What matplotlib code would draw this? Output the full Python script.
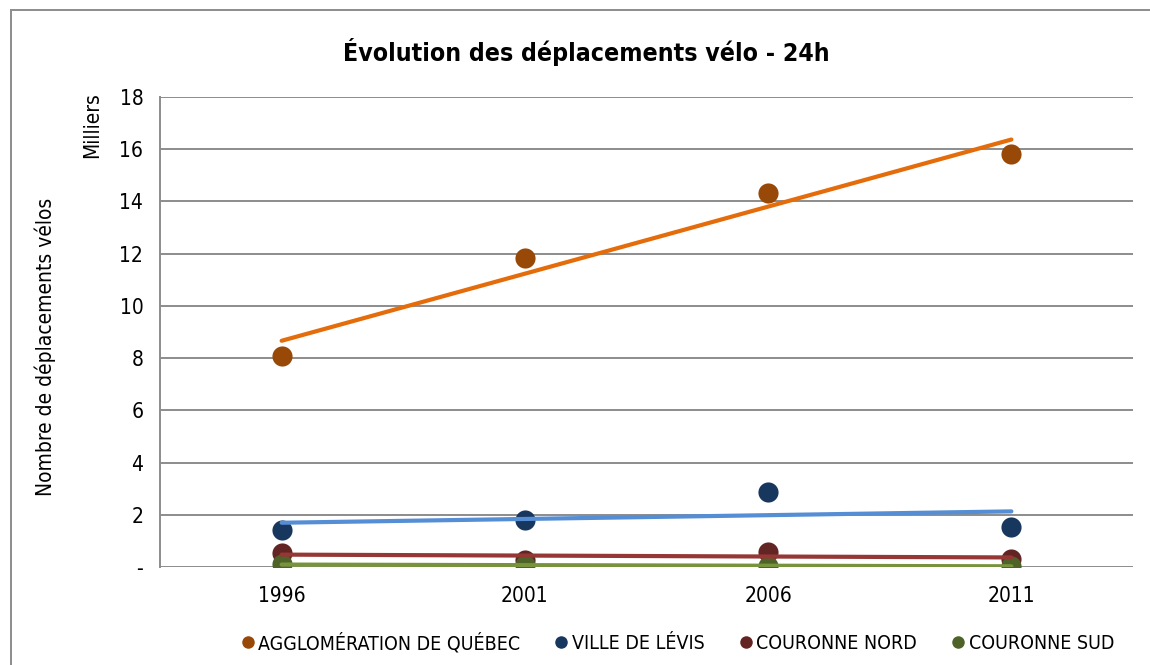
import matplotlib
matplotlib.use("Agg")
import matplotlib.pyplot as plt
import numpy as np
from matplotlib.lines import Line2D
from matplotlib.patches import Rectangle

plt.rcParams["font.family"] = ["DejaVu Sans"]
plt.rcParams["font.stretch"] = "condensed"

years = ["1996", "2001", "2006", "2011"]
series_names = ["AGGLOMÉRATION DE QUÉBEC", "VILLE DE LÉVIS", "COURONNE NORD", "COURONNE SUD"]
agglo = [8.08, 11.85, 14.32, 15.82]
levis = [1.42, 1.80, 2.89, 1.54]
nord = [0.52, 0.28, 0.58, 0.30]
sud = [0.10, 0.06, 0.05, 0.03]
yticks = [0, 2, 4, 6, 8, 10, 12, 14, 16, 18]
yticklabels = ["-", "2", "4", "6", "8", "10", "12", "14", "16", "18"]

marker_colors = ["#984807", "#17375E", "#632523", "#4F6228"]
trend_colors = ["#E46C0A", "#558ED5", "#953735", "#77933C"]

fig = plt.figure(figsize=(11.5, 6.65), dpi=100)
ax = fig.add_axes([160 / 1150, 1 - 567 / 665, (1133 - 160) / 1150, (567 - 97) / 665])

x = np.arange(len(years))
for vals, mc, tc in zip([agglo, levis, nord, sud], marker_colors, trend_colors):
    ax.plot(x, vals, "o", color=mc, markersize=14.5, markeredgewidth=0, zorder=3)
    # linear trendline, as in the source spreadsheet
    k, b = np.polyfit(x, vals, 1)
    ax.plot(x, k * x + b, color=tc, linewidth=3, solid_capstyle="round", zorder=4)

ax.set_xlim(-0.5, 3.5)
ax.set_ylim(0, 18)
ax.set_xticks(x)
ax.set_xticklabels(years, fontsize=15)
ax.set_yticks(yticks)
ax.set_yticklabels(yticklabels, fontsize=15)
ax.tick_params(length=0, pad=12)
ax.tick_params(axis="x", pad=14)
ax.grid(axis="y", color="#8C8C8C", linewidth=1.4)
ax.set_axisbelow(True)
for side in ["top", "right", "bottom"]:
    ax.spines[side].set_visible(False)
ax.spines["left"].set_color("#8C8C8C")
ax.spines["left"].set_linewidth(1.4)

fig.text(586 / 1150, 1 - 52 / 665, "Évolution des déplacements vélo - 24h",
         ha="center", va="center", fontsize=17.8, fontweight="bold")
fig.text(45 / 1150, 1 - 347 / 665, "Nombre de déplacements vélos", rotation=90,
         ha="center", va="center", fontsize=15)
fig.text(92 / 1150, 1 - 125 / 665, "Milliers", rotation=90,
         ha="center", va="center", fontsize=15)

handles = [Line2D([], [], linestyle="none", marker="o", color=c, markersize=9,
                  markeredgewidth=0) for c in marker_colors]
fig.legend(handles, series_names, loc="center", bbox_to_anchor=(676 / 1150, 1 - 643 / 665),
           ncol=4, frameon=False, fontsize=14, handletextpad=0.05, columnspacing=1.6,
           handlelength=1.0)

fig.add_artist(Rectangle((11 / 1150, -0.05), 2.0, 1 - 10 / 665 + 0.05, transform=fig.transFigure,
                         fill=False, edgecolor="#8C8C8C", linewidth=1.4))

fig.savefig("out.png", dpi=100)
